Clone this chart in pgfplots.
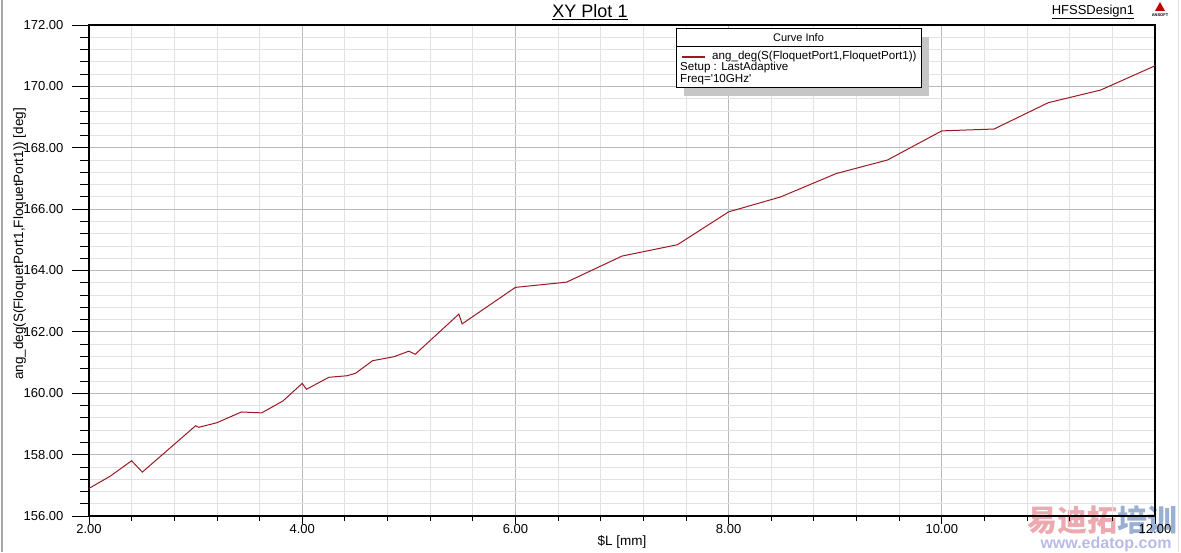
\documentclass[border=0pt]{standalone}
\usepackage{fontspec}
\setmainfont{Liberation Sans}
\newfontfamily\cjk{Noto Sans CJK SC}
\usepackage{pgfplots}
\pgfplotsset{compat=1.18}
\definecolor{curve}{RGB}{155,25,35}
\definecolor{majgrid}{RGB}{185,185,185}
\definecolor{mingrid}{RGB}{226,226,226}
\begin{document}
\begin{tikzpicture}[x=1pt,y=1pt]
\useasboundingbox (0,0) rectangle (1181,552);
% watermark (behind)
\node[font=\cjk\fontsize{30}{32}\selectfont\bfseries, inner sep=0pt, opacity=0.75] at (1102,32)
  {\textcolor[RGB]{230,140,150}{易迪拓}\textcolor[RGB]{120,150,195}{培训}};
\node[font=\fontsize{16}{18}\selectfont\bfseries, inner sep=0pt, text=black!35!blue!30!white, opacity=0.9] at (1106,8) {www.edatop.com};
\begin{axis}[
  at={(89pt,36pt)}, anchor=south west,
  width=1066pt, height=491pt, scale only axis,
  xmin=2, xmax=12, ymin=156, ymax=172,
  xtick={2,4,6,8,10,12}, ytick={156,158,160,162,164,166,168,170,172},
  minor x tick num=4, minor y tick num=4,
  grid=both,
  major grid style={majgrid, line width=0.8pt},
  minor grid style={mingrid, line width=0.8pt},
  tick align=outside, tick pos=left,
  major tick length=17pt, minor tick length=9pt,
  xtick style={/pgfplots/major tick length=8pt,/pgfplots/minor tick length=5pt},
  tick style={black, line width=0.8pt},
  axis line style={black, line width=1.2pt},
  ticklabel style={font=\fontsize{13}{15}\selectfont},
  xticklabel shift=-12pt, yticklabel shift=5pt,
  /pgf/number format/.cd, fixed, fixed zerofill, precision=2, assume math mode=true,
  /pgfplots/.cd,
  xlabel={\$L [mm]},
  ylabel={ang\_deg(S(FloquetPort1,FloquetPort1)) [deg]},
  label style={font=\fontsize{13.5}{15}\selectfont},
  xlabel style={at={(axis description cs:0.5,-0.053)}, anchor=center},
  ylabel style={at={(axis description cs:-0.065,0.554)}, anchor=center},
]
\addplot[curve, line width=1pt] coordinates {
(2.00,156.90) (2.20,157.30) (2.40,157.80) (2.50,157.43) (3.00,158.94)
(3.03,158.89) (3.20,159.04) (3.43,159.39) (3.62,159.36) (3.82,159.75)
(4.00,160.32) (4.04,160.13) (4.25,160.52) (4.42,160.57) (4.50,160.65)
(4.66,161.06) (4.86,161.19) (5.00,161.37) (5.06,161.27) (5.47,162.58)
(5.50,162.26) (6.00,163.45) (6.48,163.62) (7.00,164.47) (7.52,164.84)
(8.00,165.91) (8.49,166.40) (9.01,167.16) (9.49,167.60) (10.00,168.55)
(10.49,168.61) (11.00,169.47) (11.49,169.88) (12.00,170.67)
};
\end{axis}
% frame edges
\draw[gray!70, line width=2pt] (2,0) -- (2,552);
\draw[gray!25, line width=1.5pt] (1178.5,0) -- (1178.5,552);
% title
\node[font=\fontsize{18}{20}\selectfont] at (590,540) {\underline{XY Plot 1}};
\node[font=\fontsize{13}{15}\selectfont] at (1093,540) {\underline{HFSSDesign1}};
\fill[red!75!black] (1155,541) -- (1165,541) -- (1160,550) -- cycle;
\node[font=\fontsize{4}{5}\selectfont\bfseries, inner sep=0pt] at (1160,537) {ANSOFT};
% legend box
\fill[gray!45] (684,456) rectangle (929,515);
\filldraw[fill=white, draw=black, line width=1pt] (676,464) rectangle (921,523);
\draw[black, line width=0.8pt] (676,506) -- (921,506);
\node[font=\fontsize{11}{13}\selectfont] at (798.5,514.5) {Curve Info};
\draw[curve, line width=2pt] (682,495) -- (705,495);
\node[font=\fontsize{11.6}{13}\selectfont, anchor=west, inner sep=0pt] at (712,495) {ang\_deg(S(FloquetPort1,FloquetPort1))};
\node[font=\fontsize{11.6}{13}\selectfont, anchor=west, inner sep=0pt] at (680,484) {Setup : LastAdaptive};
\node[font=\fontsize{11.6}{13}\selectfont, anchor=west, inner sep=0pt] at (680,472) {Freq=\textquotesingle10GHz\textquotesingle};
\end{tikzpicture}
\end{document}
